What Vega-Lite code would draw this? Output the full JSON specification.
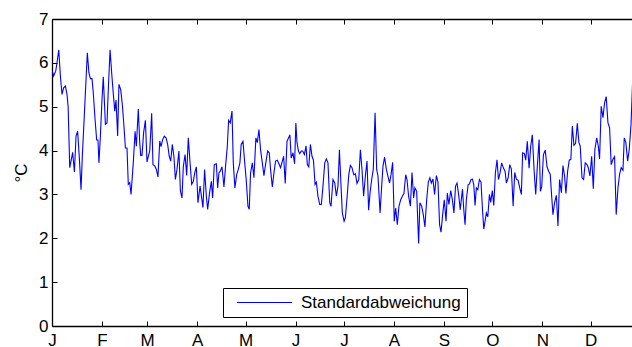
{
  "$schema": "https://vega.github.io/schema/vega-lite/v6.json",
  "width": 580,
  "height": 307,
  "autosize": {"type": "none"},
  "padding": {"left": 52, "top": 19, "right": 0, "bottom": 21},
  "background": "white",
  "config": {
    "view": {"stroke": null},
    "font": "Liberation Sans",
    "axis": {
      "domainColor": "black",
      "domainWidth": 1.3,
      "tickColor": "black",
      "tickWidth": 1,
      "tickSize": -5,
      "labelColor": "black",
      "labelFont": "Liberation Sans",
      "labelFontSize": 17,
      "titleFont": "Liberation Sans",
      "titleFontSize": 17,
      "titleFontWeight": "normal",
      "titleColor": "black",
      "grid": false
    }
  },
  "data": {"values": [
    {"d":0.2,"v":5.81},{"d":1,"v":5.70},{"d":2.3,"v":5.81},{"d":3.1,"v":6.0},{"d":4.2,"v":6.30},{"d":5.2,"v":5.70},{"d":6.2,"v":5.28},{"d":7.2,"v":5.43},{"d":8.3,"v":5.47},{"d":9.3,"v":5.28},
    {"d":10,"v":5.0},{"d":11,"v":3.61},{"d":12,"v":3.80},{"d":12.8,"v":3.96},{"d":13.9,"v":3.51},{"d":14.9,"v":4.33},{"d":15.9,"v":4.44},{"d":17,"v":3.80},{"d":18,"v":3.11},{"d":18.8,"v":3.87},
    {"d":20,"v":4.78},{"d":21,"v":5.54},{"d":21.9,"v":6.23},{"d":22.9,"v":5.77},{"d":23.8,"v":5.64},{"d":24.8,"v":5.64},{"d":25.6,"v":5.32},{"d":26.7,"v":4.71},{"d":27.7,"v":4.24},{"d":28.5,"v":4.24},
    {"d":29.1,"v":3.72},{"d":30,"v":4.33},{"d":31,"v":5.16},{"d":31.8,"v":5.68},{"d":32.7,"v":4.94},{"d":33.1,"v":4.6},{"d":34.1,"v":4.63},{"d":35,"v":5.47},{"d":36,"v":6.30},{"d":37,"v":5.77},
    {"d":37.8,"v":5.39},{"d":38.9,"v":4.90},{"d":39.7,"v":5.15},{"d":40.7,"v":4.33},{"d":41.5,"v":5.51},{"d":42.6,"v":5.39},{"d":43.6,"v":5.05},{"d":44.6,"v":4.56},{"d":45.5,"v":4.06},{"d":46.5,"v":4.06},
    {"d":47.3,"v":3.23},{"d":48.2,"v":3.27},{"d":49,"v":3.0},{"d":50.4,"v":3.72},{"d":51.5,"v":4.44},{"d":52.3,"v":4.10},{"d":53.5,"v":4.95},{"d":54.4,"v":4.18},{"d":55,"v":3.89},{"d":55.8,"v":3.89},
    {"d":56.8,"v":4.41},{"d":57.9,"v":4.69},{"d":58.9,"v":3.74},{"d":59.7,"v":3.86},{"d":60.6,"v":3.99},{"d":61.8,"v":4.85},{"d":62.6,"v":3.68},{"d":63.7,"v":3.65},{"d":64.7,"v":3.57},{"d":65.7,"v":3.40},
    {"d":66.8,"v":4.22},{"d":67.6,"v":4.09},{"d":68.6,"v":4.25},{"d":69.6,"v":4.33},{"d":70.7,"v":4.29},{"d":71.7,"v":4.14},{"d":72.7,"v":3.87},{"d":73.6,"v":3.76},{"d":74.6,"v":4.14},{"d":75.6,"v":3.86},
    {"d":76.5,"v":3.34},{"d":77.5,"v":3.57},{"d":78.7,"v":3.99},{"d":79.6,"v":3.08},{"d":80.6,"v":2.92},{"d":81.4,"v":3.63},{"d":82.5,"v":3.91},{"d":83.5,"v":3.43},{"d":84.5,"v":4.29},{"d":85.6,"v":3.72},
    {"d":86.6,"v":3.23},{"d":87.6,"v":3.30},{"d":88.5,"v":3.49},{"d":89.5,"v":3.63},{"d":90.5,"v":2.81},{"d":91.8,"v":3.19},{"d":92.8,"v":2.92},{"d":93.6,"v":2.70},{"d":94.6,"v":3.57},{"d":95.7,"v":2.96},
    {"d":96.5,"v":2.66},{"d":97.7,"v":3.04},{"d":98.8,"v":3.30},{"d":99.6,"v":2.92},{"d":100.6,"v":3.68},{"d":101.9,"v":3.70},{"d":102.7,"v":3.15},{"d":103.5,"v":3.49},{"d":104.3,"v":3.53},{"d":105.4,"v":3.63},
    {"d":106.6,"v":3.17},{"d":107.6,"v":3.64},{"d":108.7,"v":4.10},{"d":109.5,"v":4.69},{"d":110.5,"v":4.63},{"d":111.6,"v":4.90},{"d":112.4,"v":3.72},{"d":113.4,"v":3.15},{"d":114.5,"v":3.45},{"d":115.5,"v":3.57},
    {"d":116.5,"v":3.72},{"d":117.3,"v":4.14},{"d":118.4,"v":4.21},{"d":119.4,"v":3.76},{"d":120.4,"v":3.34},{"d":121.5,"v":2.73},{"d":122.3,"v":2.66},{"d":123.1,"v":3.49},{"d":124.2,"v":3.72},{"d":125.2,"v":3.38},
    {"d":126.4,"v":4.29},{"d":127.3,"v":4.18},{"d":128.3,"v":4.48},{"d":129.3,"v":4.02},{"d":130.4,"v":3.72},{"d":131.4,"v":3.43},{"d":132.4,"v":3.68},{"d":133.7,"v":3.99},{"d":134.7,"v":3.95},{"d":135.5,"v":3.57},
    {"d":136.6,"v":3.17},{"d":137.6,"v":3.49},{"d":138.6,"v":3.76},{"d":139.7,"v":3.78},{"d":140.7,"v":3.70},{"d":141.7,"v":3.61},{"d":142.8,"v":3.76},{"d":143.6,"v":3.87},{"d":144.6,"v":3.25},{"d":145.7,"v":4.21},
    {"d":146.7,"v":4.29},{"d":147.5,"v":4.36},{"d":148.3,"v":3.83},{"d":149.4,"v":3.95},{"d":150.4,"v":3.70},{"d":151.2,"v":4.63},{"d":151.9,"v":4.18},{"d":152.8,"v":3.99},{"d":153.6,"v":3.93},{"d":154.6,"v":3.99},
    {"d":155.4,"v":3.99},{"d":156.5,"v":3.91},{"d":157.5,"v":4.11},{"d":158.3,"v":3.68},{"d":159.2,"v":3.63},{"d":160.2,"v":4.14},{"d":161.2,"v":3.87},{"d":162.1,"v":3.78},{"d":163.1,"v":3.23},{"d":163.9,"v":3.28},
    {"d":164.9,"v":2.96},{"d":166,"v":2.77},{"d":167,"v":2.77},{"d":168,"v":3.19},{"d":169.1,"v":3.72},{"d":170.1,"v":3.81},{"d":171.1,"v":3.72},{"d":172.2,"v":2.81},{"d":173,"v":2.73},{"d":174.2,"v":3.34},
    {"d":175.3,"v":3.26},{"d":176.3,"v":2.96},{"d":177.3,"v":3.19},{"d":178.2,"v":4.02},{"d":179.2,"v":3.19},{"d":180,"v":2.58},{"d":181.1,"v":2.39},{"d":181.9,"v":2.47},{"d":183,"v":2.96},{"d":184,"v":3.45},
    {"d":185,"v":3.66},{"d":186,"v":3.61},{"d":187.1,"v":3.45},{"d":188.1,"v":3.47},{"d":189.1,"v":3.25},{"d":190.2,"v":3.34},{"d":191.2,"v":4.02},{"d":192.2,"v":3.57},{"d":193.2,"v":2.96},{"d":194.3,"v":3.42},
    {"d":195.3,"v":3.76},{"d":196.3,"v":2.64},{"d":197.2,"v":3.04},{"d":198.2,"v":3.34},{"d":199.2,"v":3.57},{"d":200.3,"v":4.86},{"d":201.3,"v":3.57},{"d":202.1,"v":3.42},{"d":203.4,"v":2.58},{"d":204.4,"v":3.19},
    {"d":205.2,"v":3.64},{"d":206.2,"v":3.85},{"d":207.3,"v":3.57},{"d":208.3,"v":3.41},{"d":209.3,"v":3.26},{"d":210.2,"v":3.45},{"d":211.2,"v":3.73},{"d":212.2,"v":2.39},{"d":213.1,"v":2.69},{"d":214.1,"v":2.31},
    {"d":215.1,"v":2.73},{"d":216.2,"v":2.88},{"d":217.2,"v":2.96},{"d":218.2,"v":3.02},{"d":219.3,"v":3.45},{"d":220.1,"v":3.34},{"d":221.1,"v":2.96},{"d":222.2,"v":2.73},{"d":223.2,"v":3.50},{"d":224.2,"v":2.92},
    {"d":225,"v":3.15},{"d":226.1,"v":3.07},{"d":227.3,"v":1.88},{"d":228.1,"v":2.81},{"d":229.2,"v":2.73},{"d":230.2,"v":2.54},{"d":231.2,"v":2.26},{"d":232.3,"v":2.88},{"d":233.3,"v":3.28},{"d":234.3,"v":3.38},
    {"d":235.2,"v":3.26},{"d":236.2,"v":3.35},{"d":237.2,"v":3.0},{"d":238.3,"v":3.43},{"d":239.3,"v":3.28},{"d":240.3,"v":2.31},{"d":241.2,"v":2.14},{"d":242.2,"v":2.54},{"d":243.2,"v":2.88},{"d":244.3,"v":2.39},
    {"d":245.1,"v":3.03},{"d":246.1,"v":2.77},{"d":247.2,"v":3.09},{"d":248.2,"v":2.88},{"d":249.2,"v":2.58},{"d":250.2,"v":3.19},{"d":251.1,"v":3.26},{"d":252.1,"v":3.0},{"d":253.1,"v":2.65},{"d":254.5,"v":3.12},
    {"d":255.3,"v":2.65},{"d":256.1,"v":2.31},{"d":256.9,"v":2.88},{"d":258,"v":3.22},{"d":258.8,"v":3.24},{"d":259.8,"v":3.34},{"d":260.7,"v":3.35},{"d":261.5,"v":3.22},{"d":262.3,"v":2.75},{"d":263.1,"v":3.15},
    {"d":264,"v":3.11},{"d":265,"v":3.34},{"d":266,"v":3.28},{"d":266.9,"v":2.65},{"d":267.7,"v":2.21},{"d":268.5,"v":2.39},{"d":269.3,"v":2.58},{"d":270.2,"v":2.49},{"d":271.2,"v":3.0},{"d":272,"v":2.82},
    {"d":273,"v":3.09},{"d":273.9,"v":2.75},{"d":274.9,"v":3.49},{"d":275.9,"v":3.79},{"d":276.8,"v":3.34},{"d":277.8,"v":3.49},{"d":278.8,"v":3.72},{"d":279.9,"v":3.60},{"d":280.9,"v":3.53},{"d":281.7,"v":3.26},
    {"d":282.8,"v":3.38},{"d":283.8,"v":3.68},{"d":284.8,"v":3.58},{"d":285.9,"v":2.73},{"d":286.9,"v":3.50},{"d":287.9,"v":3.35},{"d":289,"v":3.32},{"d":290,"v":3.15},{"d":291,"v":3.0},{"d":291.8,"v":3.95},
    {"d":292.9,"v":3.93},{"d":293.7,"v":3.78},{"d":294.7,"v":4.21},{"d":295.8,"v":3.60},{"d":296.8,"v":4.10},{"d":297.8,"v":4.36},{"d":298.9,"v":3.55},{"d":299.9,"v":3.0},{"d":300.9,"v":3.64},{"d":302,"v":4.25},
    {"d":302.8,"v":3.07},{"d":303.6,"v":3.17},{"d":304.7,"v":3.91},{"d":305.8,"v":4.01},{"d":306.9,"v":3.63},{"d":307.9,"v":3.53},{"d":308.9,"v":3.46},{"d":309.8,"v":2.96},{"d":310.6,"v":2.54},{"d":311.6,"v":2.81},
    {"d":312.7,"v":2.98},{"d":313.7,"v":2.28},{"d":314.7,"v":3.34},{"d":315.8,"v":3.04},{"d":316.8,"v":3.66},{"d":317.8,"v":3.42},{"d":318.6,"v":3.02},{"d":319.7,"v":3.53},{"d":320.7,"v":3.78},{"d":321.7,"v":3.80},
    {"d":322.6,"v":4.56},{"d":323.6,"v":4.12},{"d":324.6,"v":4.16},{"d":325.7,"v":4.62},{"d":326.7,"v":4.18},{"d":327.5,"v":4.10},{"d":328.6,"v":3.38},{"d":329.6,"v":3.34},{"d":330.6,"v":3.72},{"d":331.7,"v":3.68},
    {"d":332.5,"v":3.61},{"d":333.5,"v":3.42},{"d":334.6,"v":3.87},{"d":335.6,"v":3.13},{"d":336.6,"v":4.03},{"d":337.7,"v":4.29},{"d":338.7,"v":4.10},{"d":339.5,"v":3.81},{"d":340.5,"v":5.01},{"d":341.6,"v":4.75},
    {"d":342.6,"v":5.09},{"d":343.6,"v":5.23},{"d":344.7,"v":4.63},{"d":345.7,"v":4.52},{"d":346.7,"v":3.68},{"d":347.8,"v":3.80},{"d":348.8,"v":3.86},{"d":349.8,"v":2.54},{"d":350.9,"v":3.15},{"d":351.9,"v":3.46},
    {"d":352.9,"v":3.61},{"d":354,"v":3.55},{"d":354.8,"v":4.29},{"d":355.8,"v":4.18},{"d":356.9,"v":3.76},{"d":357.9,"v":4.03},{"d":359,"v":4.60},{"d":360,"v":5.60}
  ]},
  "layer": [
    {
      "mark": {"type": "line", "clip": true, "strokeWidth": 1.1},
      "encoding": {
        "x": {
          "field": "d", "type": "quantitative",
          "scale": {"domain": [0, 359.6], "nice": false, "zero": false},
          "axis": {
            "orient": "bottom", "title": null,
            "values": [0, 31, 59, 90, 120, 151, 181, 212, 243, 273, 304, 334],
            "labelExpr": "['J','F','M','A','M','J','J','A','S','O','N','D'][indexof([0,31,59,90,120,151,181,212,243,273,304,334], datum.value)]",
            "labelFlush": false, "labelOverlap": false, "labelPadding": 11
          }
        },
        "y": {
          "field": "v", "type": "quantitative",
          "scale": {"domain": [0, 7], "nice": false},
          "axis": {"values": [0, 1, 2, 3, 4, 5, 6, 7], "title": "°C", "labelPadding": 9, "titlePadding": 8}
        },
        "color": {
          "datum": "Standardabweichung", "type": "nominal",
          "scale": {"range": ["#0000ff"]},
          "legend": {
            "title": null, "orient": "none", "legendX": 171, "legendY": 269,
            "strokeColor": "black", "fillColor": "white", "padding": 6, "cornerRadius": 0,
            "symbolType": "M-5,0H5", "symbolSize": 121, "symbolStrokeWidth": 1, "symbolOffset": 27,
            "labelOffset": 28, "labelFont": "Liberation Sans", "labelFontSize": 17, "labelColor": "black", "labelLimit": 400
          }
        }
      }
    },
    {
      "mark": {"type": "line", "clip": true, "strokeOpacity": 0},
      "encoding": {
        "x": {
          "field": "d", "type": "quantitative",
          "axis": {"orient": "top", "title": null, "labels": false,
                   "values": [0, 31, 59, 90, 120, 151, 181, 212, 243, 273, 304, 334]}
        },
        "y": {"field": "v", "type": "quantitative"}
      }
    }
  ],
  "resolve": {"axis": {"x": "independent"}}
}
